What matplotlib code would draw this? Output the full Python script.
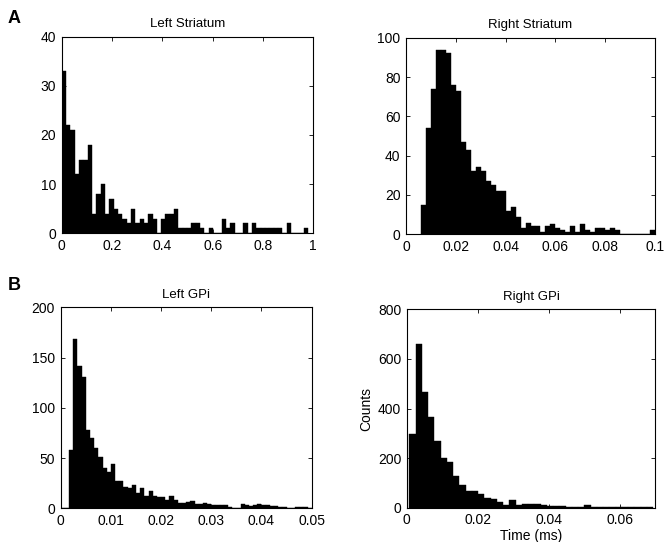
import matplotlib
matplotlib.use("Agg")
import matplotlib.pyplot as plt
import numpy as np
from matplotlib.ticker import FuncFormatter

plt.rcParams["font.family"] = ["Liberation Sans", "DejaVu Sans"]

# Left Striatum: 57 bins of equal width from 0 to 0.98
LS_RANGE = (0.0, 0.98)
LS_COUNTS = [33, 22, 21, 12, 15, 15, 18, 4, 8, 10, 4, 7, 5, 4, 3, 2, 5, 2, 3, 2,
             4, 3, 0, 3, 4, 4, 5, 1, 1, 1, 2, 2, 1, 0, 1, 0, 0, 3, 1, 2,
             0, 0, 2, 0, 2, 1, 1, 1, 1, 1, 1, 0, 2, 0, 0, 0, 1]

# Right Striatum: 47 bins from 0.006 to 0.1
RS_RANGE = (0.006, 0.1)
RS_COUNTS = [15, 54, 74, 94, 94, 92, 76, 73, 47, 43, 32, 34, 32, 27, 25, 22, 22, 12, 14, 9,
             3, 6, 4, 4, 1, 4, 5, 3, 2, 1, 4, 1, 5, 2, 1, 3, 3, 2, 3, 2,
             0, 0, 0, 0, 0, 0, 2]

# Left GPi: 60 bins from 0 to 0.05
LG_RANGE = (0.0, 0.05)
LG_COUNTS = [0, 0, 58, 168, 142, 131, 78, 70, 60, 51, 40, 36, 44, 27, 27, 21, 20, 23, 15, 20,
             12, 17, 12, 11, 11, 8, 12, 8, 5, 5, 6, 7, 4, 4, 5, 4, 3, 3, 3, 3,
             1, 0, 0, 4, 3, 2, 3, 4, 3, 3, 2, 2, 1, 1, 0, 0, 1, 1, 1, 0]

# Right GPi: 39 bins from 0.00075 to 0.0694
RG_RANGE = (0.00075, 0.06939)
RG_COUNTS = [296, 662, 468, 367, 267, 202, 186, 129, 90, 68, 68, 56, 39, 35, 23, 12, 32, 12, 15, 15,
             13, 11, 8, 8, 7, 4, 3, 3, 10, 3, 2, 2, 2, 1, 2, 1, 2, 1, 1]

PANELS = [
    ("Left Striatum", LS_RANGE, LS_COUNTS, (0, 1), [0, 0.2, 0.4, 0.6, 0.8, 1], (0, 40), [0, 10, 20, 30, 40]),
    ("Right Striatum", RS_RANGE, RS_COUNTS, (0, 0.1), [0, 0.02, 0.04, 0.06, 0.08, 0.1], (0, 100), [0, 20, 40, 60, 80, 100]),
    ("Left GPi", LG_RANGE, LG_COUNTS, (0, 0.05), [0, 0.01, 0.02, 0.03, 0.04, 0.05], (0, 200), [0, 50, 100, 150, 200]),
    ("Right GPi", RG_RANGE, RG_COUNTS, (0, 0.07), [0, 0.02, 0.04, 0.06], (0, 800), [0, 200, 400, 600, 800]),
]

RECTS = [
    [0.0926, 0.5696, 0.3778, 0.3627],
    [0.6096, 0.5677, 0.3739, 0.3627],
    [0.0911, 0.0622, 0.3769, 0.3708],
    [0.6107, 0.0633, 0.3734, 0.3660],
]

fmt = FuncFormatter(lambda v, pos: f"{v:g}")

fig = plt.figure(figsize=(6.66, 5.42), dpi=100)
axes = []
for rect, (title, rng, counts, xlim, xticks, ylim, yticks) in zip(RECTS, PANELS):
    ax = fig.add_axes(rect)
    counts = np.array(counts)
    edges = np.linspace(rng[0], rng[1], len(counts) + 1)
    ax.bar(edges[:-1], counts, width=np.diff(edges), align="edge",
           color="black", edgecolor="black", linewidth=0.3)
    ax.set_xlim(*xlim)
    ax.set_ylim(*ylim)
    ax.set_xticks(xticks)
    ax.set_yticks(yticks)
    ax.xaxis.set_major_formatter(fmt)
    ax.tick_params(direction="in", top=True, right=True, length=3, width=0.6,
                   labelsize=10, pad=4)
    for sp in ax.spines.values():
        sp.set_linewidth(0.8)
    ax.set_title(title, fontsize=9.5, pad=7)
    axes.append(ax)

axes[3].set_xlabel("Time (ms)", fontsize=10, labelpad=1)
axes[3].set_ylabel("Counts", fontsize=10, labelpad=3)

fig.text(0.012, 0.965, "A", fontsize=13, fontweight="bold", va="center")
fig.text(0.012, 0.473, "B", fontsize=13, fontweight="bold", va="center")

fig.savefig("out.png", dpi=100)
